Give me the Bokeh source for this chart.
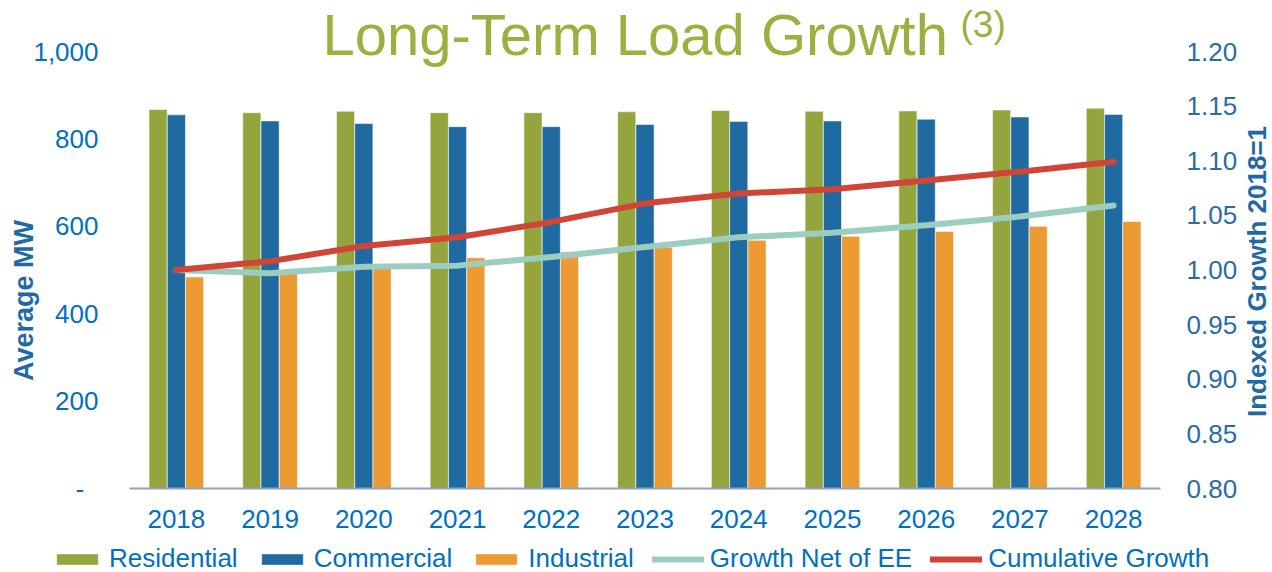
import math
from bokeh.plotting import figure
from bokeh.models import (Range1d, LinearAxis, FixedTicker, Label,
                          Legend, LegendItem, PrintfTickFormatter, ColumnDataSource)
from bokeh.transform import dodge
from bokeh.embed import file_html
from bokeh.resources import INLINE

years = ["2018", "2019", "2020", "2021", "2022", "2023", "2024", "2025", "2026", "2027", "2028"]
residential = [867, 860, 863, 860, 860, 862, 865, 863, 864, 866, 870]
commercial = [855, 841, 835, 828, 828, 833, 840, 841, 845, 850, 856]
industrial = [484, 494, 514, 528, 541, 552, 568, 577, 588, 600, 611]
growth_net_ee = [1.000, 0.997, 1.003, 1.004, 1.012, 1.021, 1.030, 1.034, 1.041, 1.049, 1.059]
cumulative = [1.000, 1.008, 1.022, 1.030, 1.044, 1.061, 1.070, 1.074, 1.082, 1.090, 1.099]
left_ticks = [0, 200, 400, 600, 800, 1000]
right_ticks = [0.80, 0.85, 0.90, 0.95, 1.00, 1.05, 1.10, 1.15, 1.20]

FONT = "Liberation Sans"
GREEN, BLUE, ORANGE = "#95A53D", "#1E6AA1", "#EC9B32"
TEAL, RED = "#9BCEC1", "#D04535"
TXT = "#0070C0"
AXT = "#1F69A6"
TITLE_C = "#9DB03F"

# Canvas geometry (px): the whole canvas is the frame; axes are pinned with fixed_location
CW, CH = 1272, 572
PL, PR = 129, 1160          # plot area left / right
PT, PB = 51, 488            # plot area top / bottom
n = len(years)
ux = (PR - PL) / n          # px per category
uy_l = (PB - PT) / 1000.0   # px per MW
uy_r = (PB - PT) / 0.4      # px per index unit

xpos = list(range(n))
src = ColumnDataSource(dict(x=xpos, res=residential, com=commercial, ind=industrial,
                            net=growth_net_ee, cum=cumulative))

p = figure(x_range=Range1d(-0.5 - PL / ux, n - 0.5 + (CW - PR) / ux),
           y_range=Range1d(-(CH - PB) / uy_l, 1000 + PT / uy_l),
           frame_width=CW, frame_height=CH,
           min_border=0, min_border_left=0, min_border_right=0,
           min_border_top=0, min_border_bottom=0,
           output_backend="svg", toolbar_location=None, tools="",
           x_axis_type=None, y_axis_type=None)
p.outline_line_color = None
p.background_fill_color = "white"
p.border_fill_color = "white"
p.extra_y_ranges = {"idx": Range1d(0.8 - (CH - PB) / uy_r, 1.2 + PT / uy_r)}

W = 0.193
bar_kw = dict(source=src, width=W, line_color="white", line_alpha=0.5, line_width=1)
r_res = p.vbar(x=dodge("x", -0.195), top="res", fill_color=GREEN, **bar_kw)
r_com = p.vbar(x=dodge("x", 0.0), top="com", fill_color=BLUE, **bar_kw)
r_ind = p.vbar(x=dodge("x", 0.195), top="ind", fill_color=ORANGE, **bar_kw)

r_net = p.line(x="x", y="net", source=src, y_range_name="idx", line_color=TEAL,
               line_width=6, line_cap="round", line_join="round")
r_cum = p.line(x="x", y="cum", source=src, y_range_name="idx", line_color=RED,
               line_width=6, line_cap="round", line_join="round")

def style(ax, color):
    ax.major_tick_line_color = None
    ax.minor_tick_line_color = None
    ax.major_tick_out = 0
    ax.major_tick_in = 0
    ax.minor_tick_out = 0
    ax.minor_tick_in = 0
    ax.major_label_text_font = FONT
    ax.major_label_text_font_size = "26px"
    ax.major_label_text_color = color

# x axis pinned at 0 MW
xa = LinearAxis(fixed_location=0, ticker=FixedTicker(ticks=xpos),
                major_label_overrides={i: y for i, y in enumerate(years)},
                bounds=(-0.5, n - 0.5))
style(xa, TXT)
xa.axis_line_color = "#8EA5C8"
xa.axis_line_width = 2
xa.major_label_standoff = 21
p.add_layout(xa, "below")

# left axis pinned at the plot-area left edge
ya = LinearAxis(fixed_location=-0.5, ticker=FixedTicker(ticks=left_ticks),
                major_label_overrides={0: "-\u00a0\u00a0", 200: "200", 400: "400", 600: "600",
                                       800: "800", 1000: "1,000"})
style(ya, TXT)
ya.axis_line_color = None
ya.major_label_standoff = 31
p.add_layout(ya, "left")

# right axis pinned at the plot-area right edge
ra = LinearAxis(fixed_location=n - 0.5, y_range_name="idx",
                ticker=FixedTicker(ticks=right_ticks),
                formatter=PrintfTickFormatter(format="%.2f"))
style(ra, "#2A6CA6")
ra.axis_line_color = None
ra.major_label_standoff = 26
p.add_layout(ra, "right")

# axis titles
p.add_layout(Label(x=23, y=CH - 300, x_units="screen", y_units="screen", angle=math.pi / 2,
                   text="Average MW", text_font=FONT, text_font_size="27px",
                   text_font_style="bold", text_color=AXT,
                   text_align="center", text_baseline="middle"))
p.add_layout(Label(x=1256, y=CH - 271, x_units="screen", y_units="screen", angle=math.pi / 2,
                   text="Indexed Growth 2018=1", text_font=FONT, text_font_size="26px",
                   text_font_style="bold", text_color=AXT,
                   text_align="center", text_baseline="middle"))

# chart title with superscript note
p.add_layout(Label(x=322, y=538, x_units="screen", y_units="screen",
                   text="Long-Term Load Growth", text_font=FONT, text_font_size="58px",
                   text_color=TITLE_C, text_baseline="alphabetic", text_align="left"))
p.add_layout(Label(x=960, y=548, x_units="screen", y_units="screen",
                   text="(3)", text_font=FONT, text_font_size="37px",
                   text_color=TITLE_C, text_baseline="alphabetic", text_align="left"))

legend = Legend(items=[LegendItem(label="Residential", renderers=[r_res]),
                       LegendItem(label="Commercial", renderers=[r_com]),
                       LegendItem(label="Industrial", renderers=[r_ind]),
                       LegendItem(label="Growth Net of EE", renderers=[r_net]),
                       LegendItem(label="Cumulative Growth", renderers=[r_cum])],
                orientation="horizontal", location=(51, -2),
                glyph_width=52, glyph_height=14, label_standoff=6, spacing=18,
                padding=0, margin=0, border_line_color=None, background_fill_alpha=0,
                label_text_font=FONT, label_text_font_size="26px", label_text_color=TXT)
p.add_layout(legend)

open("out.html", "w").write(file_html(p, INLINE))
